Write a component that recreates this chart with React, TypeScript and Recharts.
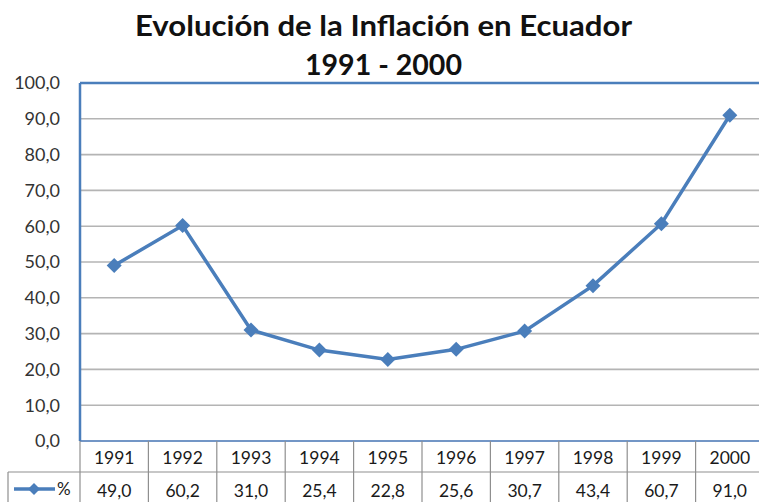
import React from 'react';
import { LineChart, Line, XAxis, YAxis, CartesianGrid, ReferenceLine } from 'recharts';

const years = ['1991', '1992', '1993', '1994', '1995', '1996', '1997', '1998', '1999', '2000'];
const inflation = [49.0, 60.2, 31.0, 25.4, 22.8, 25.6, 30.7, 43.4, 60.7, 91.0];
const yTicks = [0, 10, 20, 30, 40, 50, 60, 70, 80, 90, 100];
const seriesName = '%';
const titleLines = ['Evolución de la Inflación en Ecuador', '1991 - 2000'];

const data = years.map((y, i) => ({ year: y, value: inflation[i] }));

const W = 770;
const H = 502;
const TOP = 83;
const RIGHT = 6;
const YAXIS_W = 80;
const XAXIS_H = 61;
const plotW = W - YAXIS_W - RIGHT;
const colW = plotW / years.length;
const BLUE = '#4a7ebb';
const GRID = '#b4b4b4';
const TABLE = '#8f8f8f';
const FONT = 'Lato, "Open Sans", sans-serif';

const fmt = (v: number) => v.toFixed(1).replace('.', ',');

const Diamond = (p: any) => {
  const { cx, cy } = p;
  if (cx == null || cy == null) return null;
  const r = 7.5;
  return (
    <polygon
      key={`d-${p.index}`}
      points={`${cx},${cy - r} ${cx + r},${cy} ${cx},${cy + r} ${cx - r},${cy}`}
      fill={BLUE}
    />
  );
};

const TableTick = (props: any) => {
  const { x, payload } = props;
  const idx = years.indexOf(String(payload.value));
  const top = H - XAXIS_H;
  const mid = top + 31;
  const left = x - colW / 2;
  const right = x + colW / 2;
  return (
    <g>
      <line x1={right} y1={top} x2={right} y2={H} stroke={TABLE} strokeWidth={1.2} />
      {idx === 0 && (
        <g>
          <line x1={left} y1={top} x2={left} y2={H} stroke={TABLE} strokeWidth={1.2} />
          <line x1={8} y1={mid} x2={W} y2={mid} stroke={TABLE} strokeWidth={1.2} />
          <line x1={8} y1={mid} x2={8} y2={H} stroke={TABLE} strokeWidth={1.2} />
          <line x1={14} y1={489} x2={55} y2={489} stroke={BLUE} strokeWidth={3.5} />
          <polygon points={`34,${489 - 6} 40,489 34,${489 + 6} 28,489`} fill={BLUE} />
          <text x={57} y={495} fontSize={17} fontFamily={FONT} fill="#1a1a1a">{seriesName}</text>
        </g>
      )}
      <text x={x} y={top + 23} textAnchor="middle" fontSize={17.5} fontFamily={FONT} fill="#1a1a1a">
        {payload.value}
      </text>
      <text x={x} y={mid + 25} textAnchor="middle" fontSize={17.5} fontFamily={FONT} fill="#1a1a1a">
        {idx >= 0 ? fmt(inflation[idx]) : ''}
      </text>
    </g>
  );
};

export default function App() {
  return (
    <div style={{ position: 'absolute', left: 0, top: 0, width: 759, height: 502, overflow: 'hidden', background: '#fff' }}>
      <svg width={759} height={80} style={{ position: 'absolute', left: 0, top: 0 }}>
        <text x={383.5} y={36} textAnchor="middle" fontSize={28} fontWeight="bold" fontFamily={FONT} fill="#111"
          textLength={497} lengthAdjust="spacingAndGlyphs">{titleLines[0]}</text>
        <text x={383.5} y={75} textAnchor="middle" fontSize={28} fontWeight="bold" fontFamily={FONT} fill="#111"
          textLength={157} lengthAdjust="spacingAndGlyphs">{titleLines[1]}</text>
      </svg>
      <div style={{ position: 'absolute', left: 0, top: 0 }}>
        <LineChart width={W} height={H} data={data} margin={{ top: TOP, right: RIGHT, bottom: 0, left: 0 }}>
          <CartesianGrid horizontal vertical={false} stroke={GRID} strokeWidth={1.6} />
          <XAxis
            dataKey="year"
            scale="band"
            height={XAXIS_H}
            interval={0}
            tickLine={false}
            axisLine={{ stroke: '#7396c6', strokeWidth: 2 }}
            tick={<TableTick />}
          />
          <YAxis
            domain={[0, 100]}
            ticks={yTicks}
            width={YAXIS_W}
            tickFormatter={fmt}
            tickLine={false}
            tickSize={0}
            tickMargin={20}
            interval={0}
            axisLine={{ stroke: BLUE, strokeWidth: 2.5 }}
            tick={{ fontSize: 18, fontFamily: FONT, fill: '#333' }}
          />
          <ReferenceLine y={100} stroke={BLUE} strokeWidth={2.5} />
          <Line
            type="linear"
            dataKey="value"
            stroke={BLUE}
            strokeWidth={3.5}
            dot={Diamond}
            activeDot={false}
            isAnimationActive={false}
          />
        </LineChart>
      </div>
    </div>
  );
}
